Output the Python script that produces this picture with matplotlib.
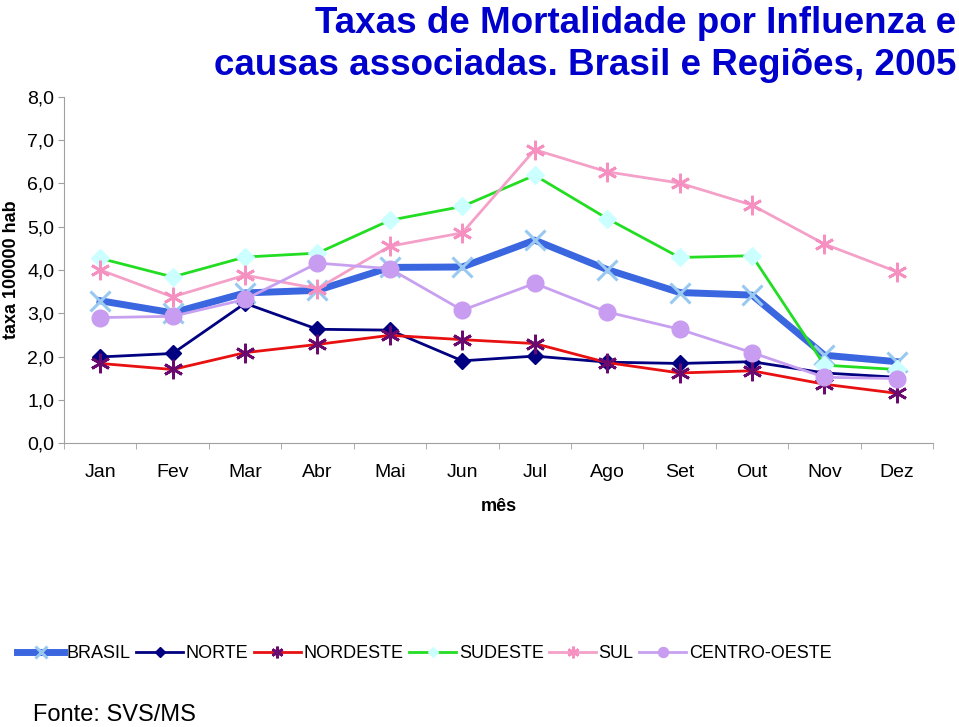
import numpy as np
import matplotlib
matplotlib.use("Agg")
import matplotlib.pyplot as plt
from matplotlib.ticker import FixedLocator, FuncFormatter

# fonte parecida com Arial
plt.rcParams['font.family'] = ['Liberation Sans', 'DejaVu Sans']

# Dados
meses = ["Jan", "Fev", "Mar", "Abr", "Mai", "Jun", "Jul", "Ago", "Set", "Out", "Nov", "Dez"]
brasil = [3.29, 3.01, 3.47, 3.53, 4.06, 4.07, 4.69, 4.01, 3.48, 3.42, 2.03, 1.88]
norte = [1.99, 2.07, 3.23, 2.63, 2.61, 1.90, 2.01, 1.87, 1.84, 1.88, 1.62, 1.52]
nordeste = [1.84, 1.70, 2.09, 2.28, 2.49, 2.39, 2.30, 1.86, 1.62, 1.67, 1.36, 1.15]
sudeste = [4.27, 3.84, 4.30, 4.39, 5.15, 5.47, 6.19, 5.19, 4.29, 4.33, 1.80, 1.70]
sul = [4.00, 3.38, 3.88, 3.57, 4.55, 4.86, 6.78, 6.27, 6.01, 5.50, 4.60, 3.96]
centro_oeste = [2.90, 2.93, 3.32, 4.16, 4.03, 3.07, 3.69, 3.03, 2.63, 2.09, 1.52, 1.49]

x = np.arange(len(meses))
asterisco = (6, 2, 0)

fig = plt.figure(figsize=(9.59, 7.27), dpi=100)
ax = fig.add_axes([0.0667, 0.3906, 0.9063, 0.476])

ax.plot(x, brasil, color='#3A66E0', lw=5, marker='x', ms=15, mec='#99C8F0', mew=2.2, label='BRASIL')
ax.plot(x, norte, color='#000080', lw=2, marker='D', ms=8, mfc='#000080', mec='#000080', label='NORTE')
ax.plot(x, nordeste, color='#E81010', lw=2, marker=asterisco, ms=14, mec='#6A0A6E', mew=2, label='NORDESTE')
ax.plot(x, sudeste, color='#22DD22', lw=2, marker='D', ms=9, mfc='#CCFFFF', mec='#CCFFFF', label='SUDESTE')
ax.plot(x, sul, color='#F4A0C8', lw=2, marker=asterisco, ms=14, mec='#F590C0', mew=2, label='SUL')
ax.plot(x, centro_oeste, color='#C8A0F0', lw=2, marker='o', ms=12, mfc='#C89CF0', mec='#C89CF0', label='CENTRO-OESTE')

ax.set_xlim(-0.5, 11.5)
ax.set_ylim(0, 8)
ax.set_xticks(x)
ax.set_xticklabels(meses)
ax.xaxis.set_minor_locator(FixedLocator(np.arange(-0.5, 12, 1)))
ax.tick_params(axis='x', which='major', length=0, pad=15, labelsize=14)
ax.tick_params(axis='x', which='minor', length=4, color='#A0A0A0', direction='out')
ax.set_yticks(np.arange(0, 9, 1))
ax.yaxis.set_major_formatter(FuncFormatter(lambda v, p: f"{v:.1f}".replace('.', ',')))
ax.tick_params(axis='y', length=4, color='#A0A0A0', pad=3, labelsize=14)

for s in ['top', 'right']:
    ax.spines[s].set_visible(False)
for s in ['left', 'bottom']:
    ax.spines[s].set_color('#A0A0A0')

ax.set_xlabel("mês", fontsize=13, fontweight='bold', labelpad=12)
ax.set_ylabel("taxa 100000 hab", fontsize=13, fontweight='bold', labelpad=5)

fig.text(0.997, 0.992, "Taxas de Mortalidade por Influenza e\ncausas associadas. Brasil e Regiões, 2005",
         ha='right', va='top', fontsize=26.5, fontweight='bold', color='#0000CC', linespacing=1.25)

fig.legend(loc='center left', bbox_to_anchor=(0.018, 0.101), ncol=6, frameon=False, fontsize=13,
           handlelength=2.6, handletextpad=0.15, columnspacing=0.3, borderaxespad=0,
           borderpad=0, markerscale=0.6)

fig.text(0.034, 0.002, "Fonte: SVS/MS", fontsize=17, ha='left', va='bottom')

fig.savefig("out.png", dpi=100)
